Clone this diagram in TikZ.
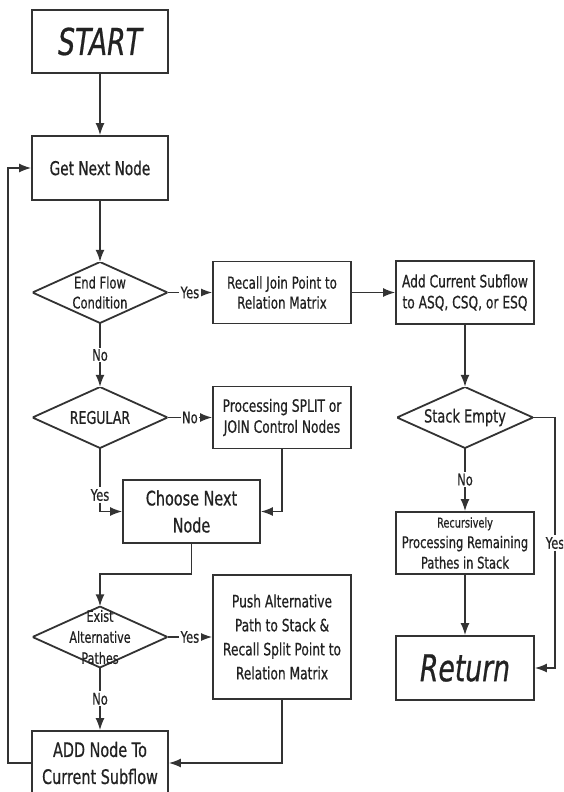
\documentclass[tikz,border=0pt]{standalone}
\usepackage{fontspec}
\setmainfont[FakeStretch=0.72, FakeBold=0.6]{DejaVu Sans}
\usetikzlibrary{arrows.meta}
\definecolor{linec}{HTML}{333333}
\definecolor{txt}{HTML}{222222}
\newcommand\fsz[2]{\fontsize{#1}{#2}\selectfont}
\tikzset{
  box/.style={draw=linec, line width=1.8pt, fill=white, text=txt, align=center, inner sep=2pt},
  decision/.style={inner sep=0pt, minimum width=135pt, minimum height=61pt, align=center, text=txt,
    path picture={\draw[linec, line width=1.8pt]
      (path picture bounding box.north) -- (path picture bounding box.east) --
      (path picture bounding box.south) -- (path picture bounding box.west) -- cycle;}},
  plain/.style={draw=linec, line width=1.5pt},
  flow/.style={plain, -{Latex[length=12pt,width=9pt]}},
  lbl/.style={fill=white, text=txt, inner sep=1.5pt, font=\fsz{16}{18}},
}
\begin{document}
\begin{tikzpicture}[x=1pt, y=-1pt]
\useasboundingbox (0,0) rectangle (563,792);
\fill[white] (0,0) rectangle (563,792);
\clip (0,0) rectangle (563,792);

% left column
\node[box, minimum width=136pt, minimum height=63pt, font=\fsz{37}{40}\itshape] (start) at (100,41.5) {START};
\node[box, minimum width=136pt, minimum height=64pt, font=\fsz{19}{24}] (get) at (100,168) {Get Next Node};
\node[decision, font=\fsz{16}{20}] (endflow) at (100,292.5) {End Flow\\Condition};
\node[decision, font=\fsz{17.5}{20}] (regular) at (100,417.5) {REGULAR};
\node[box, minimum width=137pt, minimum height=63pt, font=\fsz{20}{27}] (choose) at (191.5,511.5) {Choose Next\\Node};
\node[decision, font=\fsz{15.5}{21}] (exist) at (100,637) {Exist\\Alternative\\Pathes};
\node[box, minimum width=136pt, minimum height=64pt, font=\fsz{20}{27}] (addnode) at (100,763) {ADD Node To\\Current Subflow};

% middle column
\node[box, minimum width=138pt, minimum height=62pt, font=\fsz{16.5}{20}] (recall) at (282,292.5) {Recall Join Point to\\Relation Matrix};
\node[box, minimum width=138pt, minimum height=62pt, font=\fsz{17}{21}] (proc) at (282,417.5) {Processing SPLIT or\\JOIN Control Nodes};
\node[box, minimum width=138pt, minimum height=124pt, font=\fsz{17}{24}] (push) at (282,637) {Push Alternative\\Path to Stack \&\\Recall Split Point to\\Relation Matrix};

% right column
\node[box, minimum width=138pt, minimum height=63pt, font=\fsz{17}{21}] (addcur) at (465,292.5) {Add Current Subflow\\to ASQ, CSQ, or ESQ};
\node[decision, minimum width=136pt, font=\fsz{18}{20}] (stack) at (465,417.5) {Stack Empty};
\node[box, minimum width=138pt, minimum height=62pt, font=\fsz{16}{20.5}] (recur) at (465,543) {{\fsz{13.5}{20.5}Recursively}\\Processing Remaining\\Pathes in Stack};
\node[box, minimum width=138pt, minimum height=64pt, font=\fsz{37}{40}\itshape] (return) at (465,668) {Return};

% free labels and bend points
\node[lbl] (lyesl) at (100,495) {Yes};
\node[lbl] (lyesr) at (555,543) {Yes};
\coordinate (cj) at (191.5,574);
\coordinate (fb) at (8,763);

% connectors
\draw[flow] (start) -- (get);
\draw[flow] (get) -- (endflow);
\draw[flow] (endflow) -- node[lbl] (l1) {Yes} (recall);
\draw[flow] (recall) -- (addcur);
\draw[flow] (addcur) -- (stack);
\draw[flow] (endflow) -- node[lbl] (l2) {No} (regular);
\draw[flow] (regular) -- node[lbl] (l3) {No} (proc);
\draw[plain] (regular) -- (lyesl);
\draw[flow] (lyesl) |- (choose.west);
\draw[flow] (proc) |- (choose.east);
\draw[flow] (choose.south) -- (cj) -| (exist.north);
\draw[flow] (exist) -- node[lbl] (l4) {Yes} (push);
\draw[flow] (exist) -- node[lbl] (l5) {No} (addnode);
\draw[flow] (push) |- (addnode.east);
\draw[flow] (addnode.west) -- (fb) |- (get.west);
\draw[flow] (stack) -- node[lbl] (l6) {No} (recur);
\draw[flow] (recur) -- (return);
\draw[plain] (stack.east) -| (lyesr);
\draw[flow] (lyesr) |- (return.east);
\end{tikzpicture}
\end{document}
